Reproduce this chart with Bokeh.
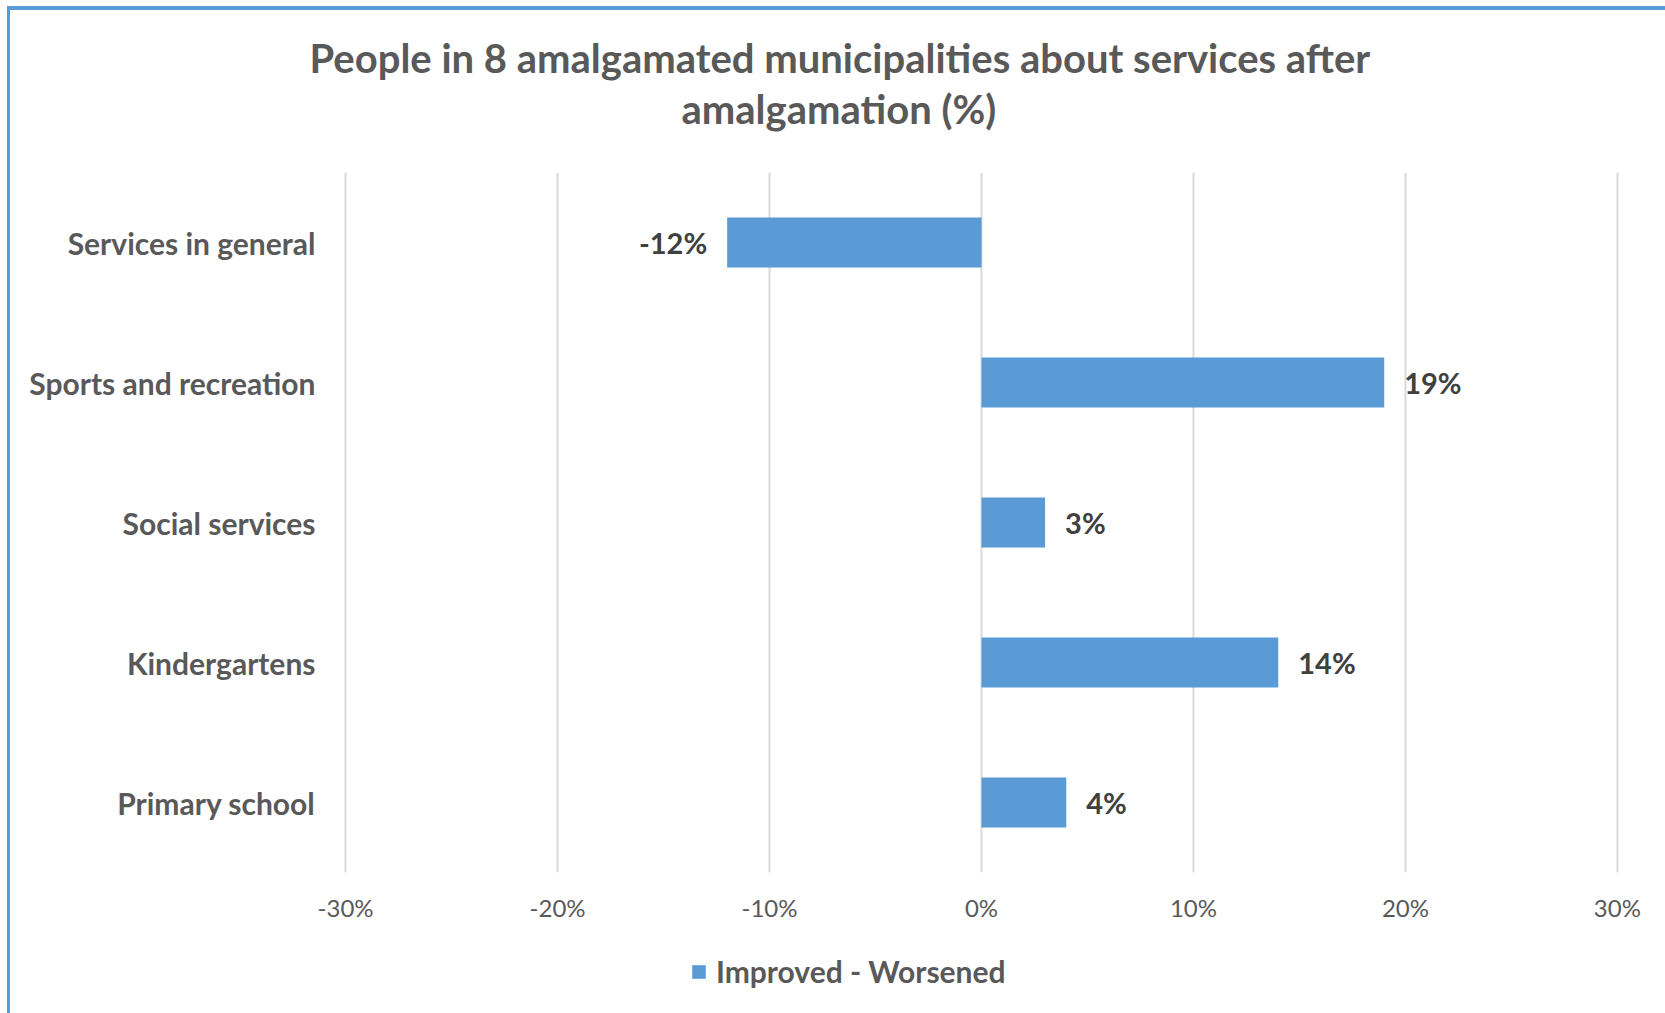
from bokeh.plotting import figure
from bokeh.layouts import column
from bokeh.models import FactorRange, Title, ColumnDataSource, FixedTicker
from bokeh.core.properties import value
from bokeh.embed import file_html
from bokeh.resources import INLINE

categories = ["Services in general", "Sports and recreation", "Social services", "Kindergartens", "Primary school"]
values = [-12, 19, 3, 14, 4]
ticks = [-30, -20, -10, 0, 10, 20, 30]
tick_labels = {t: f"{t}%" for t in ticks}
series_name = "Improved - Worsened"
title_lines = ["People in 8 amalgamated municipalities about services after", "amalgamation (%)"]

FONT = "Lato"
GREY = "#595959"
DARK = "#404040"
BLUE = "#5B9BD5"

W, H_MAIN, H_LEG = 1655, 935, 68
p = figure(width=W, height=H_MAIN, output_backend="svg", toolbar_location=None,
           y_range=FactorRange(*reversed(categories)), x_range=(-30.1, 30.1),
           min_border_left=333, min_border_right=46, min_border_top=162, min_border_bottom=73)
p.outline_line_color = None
p.background_fill_color = "white"
p.border_fill_color = "white"

src = ColumnDataSource(dict(
    cat=categories, val=values, zero=[0] * len(values),
    lab=[f"{v}%" for v in values],
    align=["left" if v >= 0 else "right" for v in values],
    off=[20 if v >= 0 else -20 for v in values],
))
bar_style = dict(fill_color=BLUE, line_color=None)
p.hbar(y="cat", left="zero", right="val", height=0.357, source=src, **bar_style)

p.text(x="val", y="cat", text="lab", source=src, text_align="align", x_offset="off",
       text_baseline="middle", text_font=value(FONT), text_font_style="bold",
       text_font_size="29px", text_color=DARK)

# axes
p.xaxis.ticker = FixedTicker(ticks=ticks)
p.xaxis.major_label_overrides = tick_labels
p.xaxis.axis_line_color = None
p.xaxis.major_tick_line_color = None
p.xaxis.minor_tick_line_color = None
p.xaxis.major_tick_out = 0
p.xaxis.minor_tick_out = 0
p.xaxis.major_label_text_font = FONT
p.xaxis.major_label_text_font_size = "24px"
p.xaxis.major_label_text_color = GREY
p.xaxis.major_label_standoff = 20

p.yaxis.axis_line_color = None
p.yaxis.major_tick_line_color = None
p.yaxis.minor_tick_line_color = None
p.yaxis.major_tick_out = 0
p.yaxis.minor_tick_out = 0
p.yaxis.major_label_text_font = FONT
p.yaxis.major_label_text_font_style = "bold"
p.yaxis.major_label_text_font_size = "30px"
p.yaxis.major_label_text_color = GREY
p.yaxis.major_label_standoff = 28

p.xgrid.grid_line_color = "#D9D9D9"
p.xgrid.grid_line_width = 2
p.ygrid.grid_line_color = None

# title (two lines; later-added Title sits further from the frame)
title_style = dict(align="left", text_font=FONT, text_font_style="bold",
                   text_font_size="40px", text_color=GREY)
p.add_layout(Title(text=title_lines[1], offset=338, standoff=79, **title_style), "above")
p.add_layout(Title(text=title_lines[0], offset=-34, standoff=-77, **title_style), "above")

# legend strip below the chart
q = figure(width=W, height=H_LEG, output_backend="svg", toolbar_location=None,
           x_axis_location=None, y_axis_location=None, x_range=(0, 1), y_range=(0, 1),
           min_border_left=0, min_border_right=0, min_border_top=0, min_border_bottom=0)
q.outline_line_color = None
q.xgrid.grid_line_color = None
q.ygrid.grid_line_color = None
q.hbar(y="zero", left="zero", right="val", height=0.357, source=src, visible=False,
       legend_label=series_name, **bar_style)
leg = q.legend[0]
leg.location = (347, 24)
leg.orientation = "horizontal"
leg.padding = 0
leg.margin = 0
leg.border_line_color = None
leg.background_fill_alpha = 0
leg.inactive_fill_alpha = 0
leg.glyph_width = 17
leg.glyph_height = 17
leg.label_height = 17
leg.label_standoff = 9
leg.label_text_font = FONT
leg.label_text_font_style = "bold"
leg.label_text_font_size = "30px"
leg.label_text_color = GREY

layout = column(p, q, spacing=0)
layout.styles = {"margin-left": "7px", "margin-top": "6px",
                 "border-left": "3px solid " + BLUE, "border-top": "4px solid " + BLUE}

open("out.html", "w").write(file_html(layout, INLINE))
